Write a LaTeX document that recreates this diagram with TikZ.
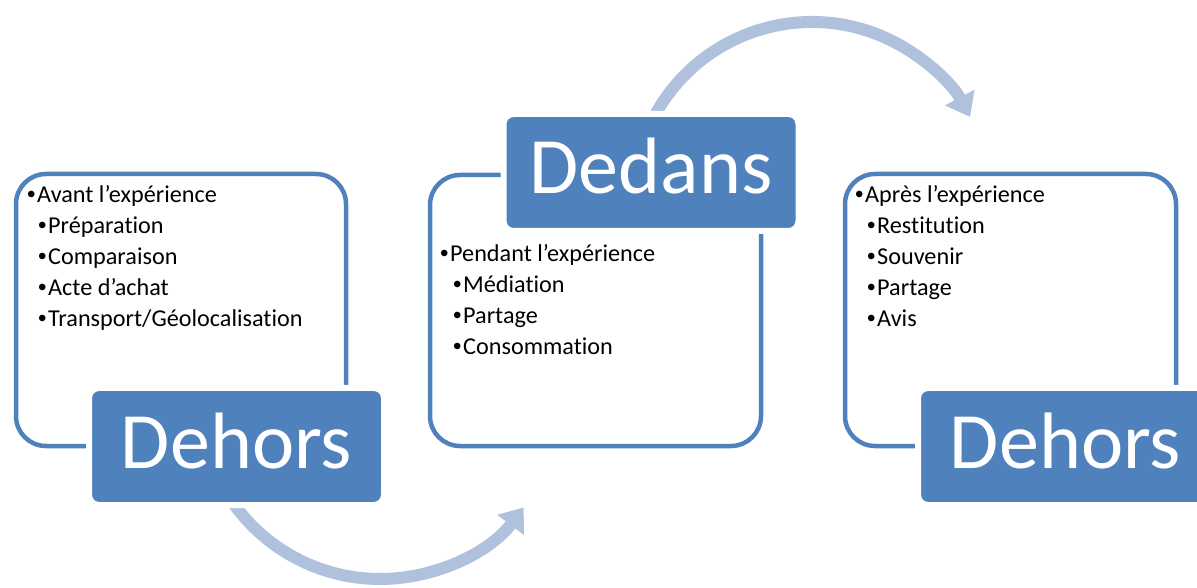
\documentclass[tikz,border=0pt]{standalone}
\usepackage{fontspec}
\setmainfont{Carlito}[Ligatures=NoCommon]
\newfontfamily\bulletfont{Liberation Sans}
\newcommand{\bul}{\makebox[10pt][l]{\bulletfont •}}
\usetikzlibrary{arrows.meta,calc}
\definecolor{accent}{RGB}{79,129,189}
\definecolor{arrowblue}{RGB}{176,193,222}
\begin{document}
\begin{tikzpicture}[x=1pt,y=1pt,
  frame/.style={draw=accent, line width=4.5pt, rounded corners=30pt, inner sep=0pt},
  title/.style={fill=accent, draw=white, line width=6pt, rounded corners=10pt,
    minimum width=295pt, minimum height=117pt, inner sep=0pt, text=white,
    font=\fontsize{80}{96}\selectfont, text height=55pt, text depth=12pt},
  item/.style={anchor=base west, inner sep=0pt, font=\fontsize{24.2}{29}\selectfont},
  flow/.style={draw=arrowblue, line width=12pt, -{Triangle[width=32pt,length=22pt]}}
]
\useasboundingbox (0,0) rectangle (1197,587);
\clip (0,0) rectangle (1197,587);
% arrows
\coordinate (c1) at (380,188);
\coordinate (c2) at (812,386);
\coordinate (a1s) at ($(c1)+(212:180)$);
\coordinate (a2s) at ($(c2)+(153:179)$);
\draw[flow] (a1s) arc[start angle=212, end angle=323, radius=180];
\draw[flow] (a2s) arc[start angle=153, end angle=28, radius=179];
% frames
\node[frame, minimum width=330pt, minimum height=272pt] (f1) at (181,277) {};
\node[frame, minimum width=331pt, minimum height=271pt] (f2) at (595.5,276.5) {};
\node[frame, minimum width=331pt, minimum height=272pt] (f3) at (1010.5,277) {};
% titles
\node[title] (t1) at (236.5,140.5) {Dehors};
\node[title] (t2) at (651,414.5) {Dedans};
\node[title] (t3) at (1065.5,140.5) {Dehors};
% items
\node[item] (i11) at (27,384) {\bul Avant l’expérience};
\node[item] (i12) at (38,353) {\bul Préparation};
\node[item] (i13) at (38,322) {\bul Comparaison};
\node[item] (i14) at (38,291) {\bul Acte d’achat};
\node[item] (i15) at (38,260) {\bul Transport/Géolocalisation};
\node[item] (i21) at (440,325) {\bul Pendant l’expérience};
\node[item] (i22) at (453,294) {\bul Médiation};
\node[item] (i23) at (453,263) {\bul Partage};
\node[item] (i24) at (453,232) {\bul Consommation};
\node[item] (i31) at (855,384) {\bul Après l’expérience};
\node[item] (i32) at (867,353) {\bul Restitution};
\node[item] (i33) at (867,322) {\bul Souvenir};
\node[item] (i34) at (867,291) {\bul Partage};
\node[item] (i35) at (867,260) {\bul Avis};
\end{tikzpicture}
\end{document}
